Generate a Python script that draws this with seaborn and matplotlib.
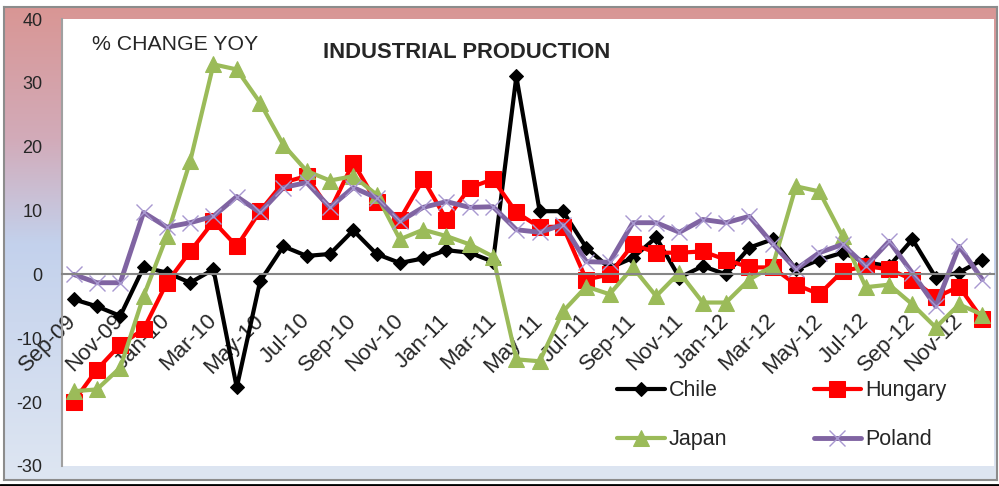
import numpy as np
import pandas as pd
import matplotlib
matplotlib.use('Agg')
import matplotlib.pyplot as plt
from matplotlib.lines import Line2D
from matplotlib.colors import LinearSegmentedColormap
import seaborn as sns

# monthly categories Sep-09 .. Dec-12
months = pd.date_range('2009-09-01', periods=40, freq='MS').strftime('%b-%y').tolist()
tick_labels = months[::2]

chile = [-3.9, -5.0, -6.5, 1.1, 0.3, -1.3, 0.8, -17.7, -1.1, 4.4,
         2.9, 3.2, 6.9, 3.2, 1.8, 2.5, 3.8, 3.4, 2.0, 31.0,
         9.9, 9.9, 4.2, 1.0, 2.6, 5.8, -0.5, 1.3, 0.0, 4.2,
         5.5, 0.8, 2.3, 3.4, 1.9, 1.3, 5.5, -0.5, 0.3, 2.3]
hungary = [-19.9, -14.9, -11.0, -8.6, -1.3, 3.6, 8.3, 4.4, 9.9, 14.4,
           15.4, 10.0, 17.5, 11.3, 8.6, 14.9, 8.6, 13.6, 14.9, 9.7,
           7.4, 7.5, -0.8, 0.0, 4.7, 3.4, 3.4, 3.6, 2.3, 1.1,
           1.1, -1.6, -3.1, 0.5, 1.3, 0.8, -0.8, -3.6, -1.9, -7.0]
japan = [-18.3, -18.0, -14.6, -3.4, 6.0, 17.7, 32.9, 32.1, 26.9, 20.3,
         16.2, 14.7, 15.4, 12.5, 5.5, 7.0, 6.0, 4.7, 2.8, -13.3,
         -13.6, -5.8, -1.9, -3.1, 1.1, -3.4, 0.3, -4.4, -4.4, -0.8,
         1.3, 13.8, 13.0, 6.0, -2.0, -1.6, -4.7, -8.3, -4.7, -6.3]
poland = [0.0, -1.3, -1.3, 9.7, 7.4, 8.1, 9.1, 12.2, 9.7, 13.6,
          14.4, 10.5, 13.6, 12.0, 8.3, 10.5, 11.4, 10.5, 10.6, 7.0,
          6.6, 7.8, 2.0, 1.9, 8.1, 8.1, 6.6, 8.6, 8.1, 9.1,
          4.8, 0.8, 3.4, 4.7, 1.3, 5.2, 0.2, -5.0, 4.4, -0.8]

sns.set_style('white')
plt.rcParams['font.family'] = ['Liberation Sans', 'DejaVu Sans']

W, H = 999, 486
fig = plt.figure(figsize=(W / 100, H / 100), dpi=100)
fx = lambda px: px / W
fy = lambda py: 1 - py / H

# chart area with gradient fill
bg = fig.add_axes([fx(4), fy(480), fx(997) - fx(4), fy(7) - fy(480)], zorder=0)
cmap = LinearSegmentedColormap.from_list(
    'bg', [(0, '#D99694'), (0.28, '#D2ABB9'), (0.5, '#C3D1EC'), (1, '#DEE6F2')])
bg.imshow(np.linspace(0, 1, 256).reshape(-1, 1), aspect='auto', cmap=cmap,
          extent=[0, 1, 0, 1], origin='upper')
bg.set_xticks([])
bg.set_yticks([])
for s in bg.spines.values():
    s.set_color('#8C8C8C')
    s.set_linewidth(1.5)

# plot area
ax = fig.add_axes([fx(62), fy(466), fx(994) - fx(62), fy(19) - fy(466)], zorder=1)
ax.set_facecolor('white')

x = list(range(len(months)))
styles = [
    ('Chile', chile, dict(color='black', marker='D', markersize=7.5, linewidth=3,
                          markeredgecolor='black')),
    ('Hungary', hungary, dict(color='#FF0000', marker='s', markersize=12, linewidth=3,
                              markeredgecolor='#FF0000')),
    ('Japan', japan, dict(color='#9BBB59', marker='^', markersize=11, linewidth=3,
                          markeredgecolor='#9BBB59')),
    ('Poland', poland, dict(color='#8064A2', marker='x', markersize=12, linewidth=3.5,
                            markeredgecolor='#A898D0', markeredgewidth=1)),
]
for name, vals, kw in styles:
    sns.lineplot(x=x, y=vals, ax=ax, label=name, legend=False, sort=False, **kw)

# axis crosses at zero (set before the tick labels, it resets the ticks)
ax.spines['bottom'].set_position(('data', 0))
ax.spines['bottom'].set_color('#868686')
ax.spines['bottom'].set_linewidth(1.5)
ax.spines['left'].set_color('#A0A0A0')
ax.spines['left'].set_linewidth(1.5)
ax.spines['top'].set_visible(False)
ax.spines['right'].set_visible(False)
ax.set_axisbelow(True)  # lines run over the month labels

ax.set_xlim(-0.5, 39.5)
ax.set_ylim(-30, 40)
ax.set_yticks(range(-30, 41, 10))
ax.set_yticklabels([str(v) for v in range(-30, 41, 10)], fontsize=13)
ax.set_xticks(x[::2])
ax.set_xticklabels(tick_labels, rotation=45, ha='right', va='center',
                   rotation_mode='anchor', fontsize=16)
ax.tick_params(axis='x', length=0, pad=31)
ax.tick_params(axis='y', length=0, pad=14)
ax.set_xlabel('')
ax.set_ylabel('')

h, l = ax.get_legend_handles_labels()
order = [0, 2, 1, 3]
ax.legend([h[i] for i in order], [l[i] for i in order], ncol=2, loc='upper left',
          bbox_to_anchor=(fx(598), fy(361)), bbox_transform=fig.transFigure,
          frameon=False, fontsize=15.5, handlelength=2.2, columnspacing=4,
          labelspacing=1.3, handletextpad=0.2)

fig.text(fx(92), fy(45), '% CHANGE YOY', fontsize=15.3, va='center', ha='left')
fig.text(fx(323), fy(52), 'INDUSTRIAL PRODUCTION', fontsize=15.8, fontweight='bold',
         va='center', ha='left')

fig.add_artist(Line2D([0, 1], [fy(484.5)] * 2, color='black', lw=2,
                      transform=fig.transFigure))

fig.savefig('out.png', dpi=100)
